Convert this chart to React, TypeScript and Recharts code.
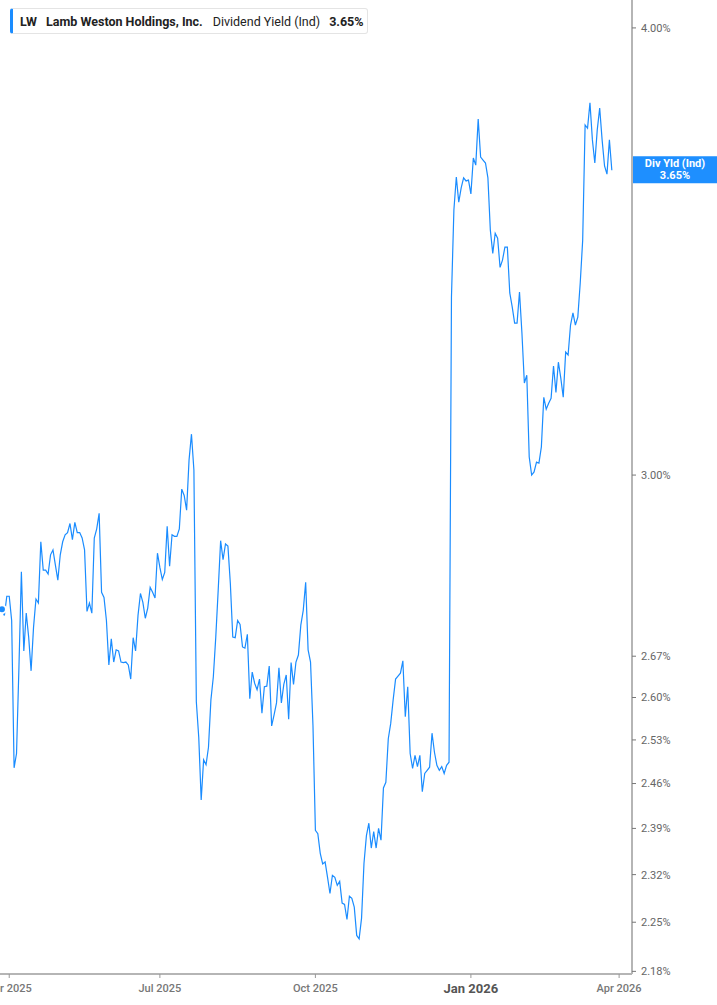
import { LineChart, Line, XAxis, YAxis, ReferenceLine } from "recharts";

// first trading day shown, and market holidays skipped in the date list
const firstDay = "2025-03-27";
const holidays = [
  "2025-04-18", "2025-05-26", "2025-06-19", "2025-07-04", "2025-09-01",
  "2025-11-27", "2025-12-25", "2026-01-01", "2026-01-19", "2026-02-16",
];

// dividend yield (%) per trading day
const yieldPct = [
  2.752, 2.741, 2.775, 2.775, 2.732, 2.485, 2.508, 2.652, 2.819, 2.679,
  2.745, 2.703, 2.645, 2.720, 2.770, 2.763, 2.874, 2.822, 2.822, 2.815,
  2.850, 2.859, 2.831, 2.804, 2.850, 2.874, 2.887, 2.891, 2.908, 2.878,
  2.910, 2.891, 2.891, 2.881, 2.859, 2.748, 2.763, 2.745, 2.881, 2.898,
  2.927, 2.782, 2.773, 2.732, 2.655,
  2.700, 2.660, 2.681, 2.679, 2.660, 2.659, 2.660, 2.655, 2.631, 2.702,
  2.679, 2.741, 2.780, 2.764, 2.736, 2.754, 2.791, 2.782, 2.772, 2.853,
  2.827, 2.805, 2.818, 2.903, 2.829, 2.887, 2.884, 2.884, 2.898, 2.973,
  2.961, 2.933, 3.029, 3.080, 3.010, 2.593, 2.534, 2.434, 2.498, 2.490,
  2.518, 2.596,
  2.635, 2.703, 2.786, 2.876, 2.841, 2.870, 2.866, 2.798, 2.703, 2.702,
  2.732, 2.725, 2.686, 2.684, 2.708, 2.598, 2.643, 2.624, 2.613, 2.631,
  2.574, 2.618, 2.619, 2.653, 2.553, 2.571, 2.591, 2.650, 2.591, 2.622,
  2.638, 2.564, 2.659, 2.622, 2.660, 2.672, 2.724, 2.750, 2.800, 2.681,
  2.660, 2.554,
  2.387, 2.382, 2.352, 2.336, 2.339, 2.316, 2.292, 2.319, 2.316, 2.304,
  2.310, 2.278, 2.276, 2.254, 2.288, 2.285, 2.272, 2.231, 2.226, 2.256,
  2.337, 2.379, 2.398, 2.360, 2.385, 2.360, 2.390, 2.372, 2.453, 2.462,
  2.532, 2.557, 2.596, 2.631, 2.636, 2.641, 2.662, 2.568, 2.618, 2.508,
  2.484, 2.505, 2.487, 2.505, 2.447, 2.476, 2.481, 2.486, 2.541, 2.510,
  2.489, 2.481, 2.487, 2.476, 2.489, 2.494,
  3.364, 3.558, 3.634, 3.576, 3.609, 3.632, 3.625, 3.627, 3.595, 3.679,
  3.662, 3.772, 3.681, 3.674, 3.667, 3.632, 3.512, 3.460, 3.505, 3.494,
  3.429, 3.445, 3.474, 3.474, 3.373, 3.343, 3.308, 3.308, 3.375, 3.287,
  3.183, 3.199, 3.035, 3.000, 3.006, 3.025, 3.023, 3.055,
  3.154, 3.130, 3.142, 3.152, 3.218, 3.164, 3.226, 3.193, 3.154, 3.247,
  3.241, 3.304, 3.330, 3.304, 3.321, 3.395, 3.489, 3.758, 3.750, 3.812,
  3.722, 3.667, 3.746, 3.799, 3.722, 3.660, 3.641, 3.722, 3.65,
];

const yTicks = [2.18, 2.25, 2.32, 2.39, 2.46, 2.53, 2.6, 2.67, 3.0, 4.0];
const xTickMonths = ["2025-04-01", "2025-07-01", "2025-10-01", "2026-01-01", "2026-04-01"];
const xTickLabels = ["Apr 2025", "Jul 2025", "Oct 2025", "Jan 2026", "Apr 2026"];

// trading-day calendar (weekdays minus holidays); the axis is spaced by trading day
const DAY = 86400000;
const calendarEnd = Date.parse("2026-04-10");
const tradingDays: number[] = [];
for (let t = Date.parse(firstDay); t <= calendarEnd; t += DAY) {
  const d = new Date(t);
  const dow = d.getUTCDay();
  if (dow === 0 || dow === 6) continue;
  if (holidays.includes(d.toISOString().slice(0, 10))) continue;
  tradingDays.push(t);
}

const data = yieldPct.map((v, i) => ({ i, date: tradingDays[i], v }));
// each tick sits on the first trading day of its month
const xTicks = xTickMonths.map((m) => tradingDays.findIndex((t) => t >= Date.parse(m)));
const lastValue = yieldPct[yieldPct.length - 1];

const BLUE = "#1a8cff";
const AXIS = "#b5b5b5";
const FONT = "Roboto, 'Noto Sans', sans-serif";

function XTick(props: any) {
  const { x, y, payload } = props;
  const label = xTickLabels[xTicks.indexOf(payload.value)] ?? "";
  const big = label.startsWith("Jan");
  return (
    <text
      x={x}
      y={y}
      dy={big ? 11 : 10}
      textAnchor="middle"
      fontFamily={FONT}
      fontSize={big ? 13 : 11}
      fontWeight={big ? 700 : 500}
      fill={big ? "#555" : "#777"}
    >
      {label}
    </text>
  );
}

function LastLabel(props: any) {
  const vb = props.viewBox;
  if (!vb) return null;
  const x = vb.x + vb.width + 1;
  const y = vb.y;
  return (
    <g>
      <rect x={x} y={y - 14} width={85} height={27} fill="#1e8fff" />
      <text x={x + 42} y={y - 3} textAnchor="middle" fontFamily={FONT} fontSize={11} fontWeight={700} fill="#fff">
        Div Yld (Ind)
      </text>
      <text x={x + 42} y={y + 9} textAnchor="middle" fontFamily={FONT} fontSize={11} fontWeight={700} fill="#fff">
        {lastValue.toFixed(2)}%
      </text>
    </g>
  );
}

export default function App() {
  return (
    <div style={{ position: "absolute", left: 0, top: 0, width: 717, height: 1005, background: "#fff" }}>
      <LineChart width={717} height={1005} data={data} margin={{ top: 0, right: 0, bottom: 0, left: 0 }}>
        <XAxis
          dataKey="i"
          type="number"
          domain={[-0.8, 259.3]}
          ticks={xTicks}
          interval={0}
          allowDataOverflow
          height={31}
          axisLine={{ stroke: AXIS, strokeWidth: 2 }}
          tickLine={{ stroke: "#999" }}
          tickSize={4}
          tickMargin={4}
          tick={<XTick />}
        />
        <YAxis
          orientation="right"
          scale="log"
          domain={[2.1763, 4.0725]}
          allowDataOverflow
          ticks={yTicks}
          interval={0}
          width={85}
          axisLine={{ stroke: AXIS, strokeWidth: 2 }}
          tickLine={{ stroke: "#777" }}
          tickSize={4}
          tickMargin={5}
          tickFormatter={(v: number) => `${v.toFixed(2)}%`}
          tick={{ fontFamily: FONT, fontSize: 11, fill: "#666" }}
        />
        <ReferenceLine y={lastValue} stroke="none" label={<LastLabel />} />
        <Line
          type="linear"
          dataKey="v"
          stroke={BLUE}
          strokeWidth={1.2}
          dot={false}
          isAnimationActive={false}
        />
      </LineChart>
      <div
        style={{
          position: "absolute",
          left: 10,
          top: 8,
          width: 358,
          height: 26,
          border: "1px solid #e4e4e4",
          borderLeft: `3px solid ${BLUE}`,
          borderRadius: 3,
          background: "#fff",
          display: "flex",
          alignItems: "center",
          paddingLeft: 7,
          boxSizing: "border-box",
          fontFamily: FONT,
          fontSize: 12.5,
          color: "#222",
          whiteSpace: "nowrap",
        }}
      >
        <span style={{ fontWeight: 700, marginRight: 9 }}>LW</span>
        <span style={{ fontWeight: 700, marginRight: 10 }}>Lamb Weston Holdings, Inc.</span>
        <span style={{ fontWeight: 400, marginRight: 9 }}>Dividend Yield (Ind)</span>
        <span style={{ fontWeight: 700 }}>3.65%</span>
      </div>
    </div>
  );
}
